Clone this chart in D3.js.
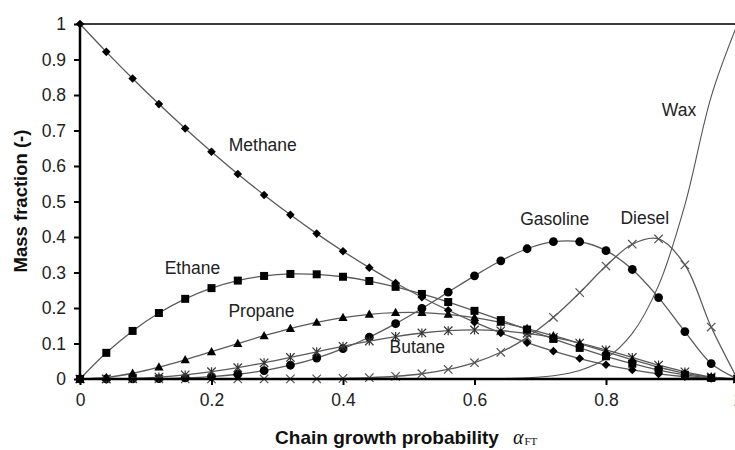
<!DOCTYPE html>
<html>
<head>
<meta charset="utf-8">
<script src="https://cdn.jsdelivr.net/npm/d3@7"></script>
<style>
  html, body { margin: 0; padding: 0; background: #fff; }
  svg { display: block; font-family: "Liberation Sans", Arial, sans-serif; }
</style>
</head>
<body>
<svg id="chart" width="735" height="450"></svg>
<script>
// Chain growth probability (x) and mass fraction of each product cut (y)
const alpha = [0, 0.04, 0.08, 0.12, 0.16, 0.20, 0.24, 0.28, 0.32, 0.36, 0.40, 0.44, 0.48,
               0.52, 0.56, 0.60, 0.64, 0.68, 0.72, 0.76, 0.80, 0.84, 0.88, 0.92, 0.96, 1.00];

const methane  = [1, 0.9216, 0.8464, 0.7744, 0.7056, 0.64, 0.5776, 0.5184, 0.4624, 0.4096, 0.36, 0.3136, 0.2704,
                  0.2304, 0.1936, 0.16, 0.1296, 0.1024, 0.0784, 0.0576, 0.04, 0.0256, 0.0144, 0.0064, 0.0016, 0];
const ethane   = [0, 0.0737, 0.1354, 0.1859, 0.2258, 0.256, 0.2772, 0.2903, 0.2959, 0.2949, 0.288, 0.276, 0.2596,
                  0.2396, 0.2168, 0.192, 0.1659, 0.1393, 0.1129, 0.0876, 0.064, 0.043, 0.0253, 0.0118, 0.0031, 0];
const propane  = [0, 0.0044, 0.0162, 0.0335, 0.0542, 0.0768, 0.0998, 0.1219, 0.142, 0.1593, 0.1728, 0.1822, 0.1869,
                  0.1869, 0.1821, 0.1728, 0.1593, 0.1421, 0.1219, 0.0999, 0.0768, 0.0542, 0.0334, 0.0163, 0.0045, 0];
const butane   = [0, 0.0002, 0.0017, 0.0054, 0.0116, 0.0205, 0.0319, 0.0455, 0.0606, 0.0765, 0.0922, 0.1069, 0.1196,
                  0.1296, 0.136, 0.1382, 0.1359, 0.1288, 0.117, 0.1012, 0.0819, 0.0607, 0.0392, 0.02, 0.0058, 0];
const gasoline = [0, 0, 0.0002, 0.0009, 0.0029, 0.0067, 0.0134, 0.0238, 0.0388, 0.0591, 0.0854, 0.1177, 0.1558,
                  0.1987, 0.2446, 0.2906, 0.333, 0.3669, 0.3867, 0.3866, 0.3615, 0.3085, 0.2293, 0.1335, 0.0434, 0];
const diesel   = [0, 0, 0, 0, 0, 0, 0, 0.0001, 0.0003, 0.0007, 0.0017, 0.0037, 0.0077,
                  0.0148, 0.0268, 0.046, 0.0753, 0.1173, 0.1738, 0.2433, 0.3182, 0.3796, 0.3946, 0.3215, 0.1462, 0];
const wax      = [0, 0, 0, 0, 0, 0, 0, 0, 0, 0, 0, 0, 0,
                  0, 0, 0.0003, 0.0011, 0.0033, 0.0093, 0.024, 0.0576, 0.1285, 0.2637, 0.4906, 0.7956, 1];

const xTicks = [0, 0.2, 0.4, 0.6, 0.8, 1];
const yTicks = [0, 0.1, 0.2, 0.3, 0.4, 0.5, 0.6, 0.7, 0.8, 0.9, 1];

// Series: values, marker type, label text and label anchor (alpha, fraction at baseline)
const series = [
  { name: "Wax",      values: wax,      marker: null,       label: [0.911, 0.741] },
  { name: "Diesel",   values: diesel,   marker: "cross",    label: [0.859, 0.437] },
  { name: "Gasoline", values: gasoline, marker: "circle",   label: [0.722, 0.434] },
  { name: "Butane",   values: butane,   marker: "asterisk", label: [0.513, 0.073] },
  { name: "Propane",  values: propane,  marker: "triangle", label: [0.276, 0.175] },
  { name: "Ethane",   values: ethane,   marker: "square",   label: [0.171, 0.296] },
  { name: "Methane",  values: methane,  marker: "diamond",  label: [0.278, 0.642] }
];

const svg = d3.select("#chart");
const x = d3.scaleLinear().domain([0, 1]).range([80, 737.5]);
const y = d3.scaleLinear().domain([0, 1]).range([379, 24]);

// top frame line
svg.append("line")
  .attr("x1", x(0)).attr("x2", x(1)).attr("y1", y(1)).attr("y2", y(1))
  .attr("stroke", "#3a3a3a").attr("stroke-width", 2);

const line = d3.line().curve(d3.curveCatmullRom.alpha(0.5));

const markerPath = {
  diamond:  "M0,-4.3L4.3,0L0,4.3L-4.3,0Z",
  square:   "M-4,-4H4V4H-4Z",
  triangle: "M0,-4.8L4.6,3.4H-4.6Z",
  cross:    "M-4.2,-4.2L4.2,4.2M-4.2,4.2L4.2,-4.2",
  asterisk: "M-4.2,-4.2L4.2,4.2M-4.2,4.2L4.2,-4.2M0,-4.5V4.5"
};

series.forEach(s => {
  const pts = alpha.map((a, i) => [x(a), y(s.values[i])]);
  svg.append("path")
    .attr("d", line(pts))
    .attr("fill", "none")
    .attr("stroke", s.marker ? "#5a5a5a" : "#555")
    .attr("stroke-width", s.marker ? 1.3 : 1.1);

  if (s.marker) {
    const g = svg.append("g");
    pts.forEach(p => {
      if (s.marker === "circle") {
        g.append("circle").attr("cx", p[0]).attr("cy", p[1]).attr("r", 4.4).attr("fill", "#000");
      } else if (s.marker === "cross" || s.marker === "asterisk") {
        g.append("path").attr("d", markerPath[s.marker])
          .attr("transform", `translate(${p[0]},${p[1]})`)
          .attr("fill", "none").attr("stroke", s.marker === "cross" ? "#555" : "#333")
          .attr("stroke-width", 1.2);
      } else {
        g.append("path").attr("d", markerPath[s.marker])
          .attr("transform", `translate(${p[0]},${p[1]})`)
          .attr("fill", "#000");
      }
    });
  }
});

// axes
const yAxis = svg.append("g").attr("transform", `translate(${x(0)},0)`)
  .call(d3.axisLeft(y).tickValues(yTicks).tickFormat(d3.format("")).tickSize(6).tickPadding(8));
const xAxis = svg.append("g").attr("transform", `translate(0,${y(0)})`)
  .call(d3.axisBottom(x).tickValues(xTicks).tickFormat(d3.format("")).tickSize(6).tickPadding(9));

[yAxis, xAxis].forEach(ax => {
  ax.select(".domain").attr("stroke", "#000").attr("stroke-width", 2.5);
  ax.selectAll(".tick line").attr("stroke", "#000").attr("stroke-width", 2);
  ax.selectAll(".tick text").attr("font-size", 17.5).attr("fill", "#222")
    .attr("font-family", "'Liberation Sans', Arial, sans-serif");
});
yAxis.select(".domain").attr("d", `M0,${y(0)}V${y(1)}`);
xAxis.select(".domain").attr("d", `M${x(0)},0H${x(1)}`);

// series labels
series.forEach(s => {
  svg.append("text")
    .attr("x", x(s.label[0])).attr("y", y(s.label[1]))
    .attr("text-anchor", "middle")
    .attr("font-size", 17.5).attr("fill", "#222")
    .text(s.name);
});

// axis titles
svg.append("text")
  .attr("transform", `translate(27,${201}) rotate(-90)`)
  .attr("text-anchor", "middle")
  .attr("font-size", 18.5).attr("font-weight", "bold").attr("fill", "#111")
  .text("Mass fraction (-)");

svg.append("text")
  .attr("x", 387).attr("y", 444)
  .attr("text-anchor", "middle")
  .attr("font-size", 19).attr("font-weight", "bold").attr("fill", "#111")
  .text("Chain growth probability");

const sym = svg.append("text").attr("x", 513).attr("y", 444)
  .attr("font-family", "'Liberation Serif', 'DejaVu Serif', serif").attr("fill", "#111");
sym.append("tspan").attr("font-style", "italic").attr("font-size", 20).text("α");
sym.append("tspan").attr("font-size", 11).attr("dx", 1).attr("dy", 1).text("FT");
</script>
</body>
</html>
